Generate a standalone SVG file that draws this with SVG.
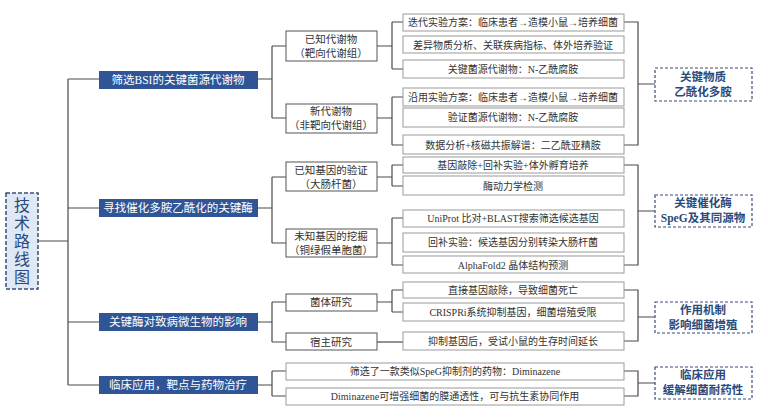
<svg xmlns="http://www.w3.org/2000/svg" width="768" height="420" viewBox="0 0 768 420">
<style>
text{font-family:"Liberation Serif","Noto Sans CJK SC",sans-serif;text-anchor:middle;dominant-baseline:central}
.l1 rect{fill:#2f5597;stroke:none}.l1 text{fill:#fff;font-size:11.5px}
.l2 rect{fill:#fff;stroke:#555;stroke-width:1}.l2 text{fill:#333;font-size:10.5px}
.l3 rect{fill:#fff;stroke:#9a9a9a;stroke-width:1}.l3 text{fill:#333;font-size:10px}
.sum rect{fill:#fff;stroke:#3a4f72;stroke-width:1.2;stroke-dasharray:3 2}.sum text{fill:#2a4a7a;font-size:11.5px;font-weight:bold}
#conn path{fill:none;stroke:#4a4a4a;stroke-width:1.2}
</style>
<g id="conn">
<path d="M38 241H68M68 79V385M68 79H99M68 208H99M68 322H99M68 385H99"/>
<path d="M258 79H272M272 46V118M272 46H286M272 118H286"/>
<path d="M258 208H272M272 177V243M272 177H286M272 243H286"/>
<path d="M258 322H272M272 302V342M272 302H286M272 342H286"/>
<path d="M258 385H272M272 371V396M272 371H286M272 396H286"/>
<path d="M377 46H392M392 22V69M392 22H403M392 69H403"/>
<path d="M377 118H392M392 97V145M392 97H403M392 145H403"/>
<path d="M377 177H392M392 165V186M392 165H403M392 186H403"/>
<path d="M377 243H392M392 218V265M392 218H403M392 265H403"/>
<path d="M377 302H392M392 290V312M392 290H403M392 312H403"/>
<path d="M377 342H403"/>
<path d="M624 22H638V145H624M638 84H655"/>
<path d="M624 165H638V265H624M638 211H655"/>
<path d="M624 290H638V341H624M638 317H655"/>
<path d="M624 371H638V396H624M638 383H655"/>
</g>
<g id="root"><rect x="6" y="193" width="32" height="96" fill="#dfe8f4" stroke="#3a4f72" stroke-width="1.5" stroke-dasharray="4 2"/>
<text font-size="16" fill="#2a4a7a"><tspan x="22" y="205">技</tspan><tspan x="22" y="223">术</tspan><tspan x="22" y="241">路</tspan><tspan x="22" y="259">线</tspan><tspan x="22" y="277">图</tspan></text></g>
<g id="a1" class="l1"><rect x="99" y="71" width="159" height="18"/><text x="178" y="80">筛选BSI的关键菌源代谢物</text></g>
<g id="a2" class="l1"><rect x="99" y="199" width="159" height="18"/><text x="178" y="208">寻找催化多胺乙酰化的关键酶</text></g>
<g id="a3" class="l1"><rect x="99" y="313" width="159" height="18"/><text x="178" y="322">关键酶对致病微生物的影响</text></g>
<g id="a4" class="l1"><rect x="99" y="376" width="159" height="18"/><text x="178" y="385">临床应用，靶点与药物治疗</text></g>
<g id="b1" class="l2"><rect x="286" y="31" width="91" height="30"/><text x="331" y="39">已知代谢物</text><text x="331" y="53">（靶向代谢组）</text></g>
<g id="b2" class="l2"><rect x="286" y="104" width="91" height="29"/><text x="331" y="111">新代谢物</text><text x="331" y="125">（非靶向代谢组）</text></g>
<g id="b3" class="l2"><rect x="286" y="162" width="91" height="29"/><text x="331" y="170">已知基因的验证</text><text x="331" y="184">（大肠杆菌）</text></g>
<g id="b4" class="l2"><rect x="286" y="229" width="91" height="28"/><text x="331" y="236">未知基因的挖掘</text><text x="331" y="250">（铜绿假单胞菌）</text></g>
<g id="b5" class="l2"><rect x="286" y="294" width="91" height="17"/><text x="331" y="302">菌体研究</text></g>
<g id="b6" class="l2"><rect x="286" y="333" width="91" height="17"/><text x="331" y="342">宿主研究</text></g>
<g id="c1" class="l3"><rect x="403" y="14" width="221" height="17"/><text x="513" y="22">迭代实验方案：临床患者→造模小鼠→培养细菌</text></g>
<g id="c2" class="l3"><rect x="403" y="36" width="221" height="17"/><text x="513" y="45">差异物质分析、关联疾病指标、体外培养验证</text></g>
<g id="c3" class="l3"><rect x="403" y="60" width="221" height="18"/><text x="513" y="69">关键菌源代谢物：N-乙酰腐胺</text></g>
<g id="c4" class="l3"><rect x="403" y="88" width="221" height="18"/><text x="513" y="97">沿用实验方案：临床患者→造模小鼠→培养细菌</text></g>
<g id="c5" class="l3"><rect x="403" y="108" width="221" height="19"/><text x="513" y="117">验证菌源代谢物：N-乙酰腐胺</text></g>
<g id="c6" class="l3"><rect x="403" y="135" width="221" height="19"/><text x="513" y="145">数据分析+核磁共振解谱：二乙酰亚精胺</text></g>
<g id="c7" class="l3"><rect x="403" y="157" width="221" height="16"/><text x="513" y="165">基因敲除+回补实验+体外孵育培养</text></g>
<g id="c8" class="l3"><rect x="403" y="176" width="221" height="19"/><text x="513" y="186">酶动力学检测</text></g>
<g id="c9" class="l3"><rect x="403" y="210" width="221" height="17"/><text x="513" y="218">UniProt 比对+BLAST搜索筛选候选基因</text></g>
<g id="c10" class="l3"><rect x="403" y="233" width="221" height="19"/><text x="513" y="242">回补实验：候选基因分别转染大肠杆菌</text></g>
<g id="c11" class="l3"><rect x="403" y="256" width="221" height="17"/><text x="513" y="265">AlphaFold2 晶体结构预测</text></g>
<g id="c12" class="l3"><rect x="403" y="282" width="221" height="16"/><text x="513" y="290">直接基因敲除，导致细菌死亡</text></g>
<g id="c13" class="l3"><rect x="403" y="303" width="221" height="18"/><text x="513" y="312">CRISPRi系统抑制基因，细菌增殖受限</text></g>
<g id="c14" class="l3"><rect x="403" y="332" width="221" height="18"/><text x="513" y="341">抑制基因后，受试小鼠的生存时间延长</text></g>
<g id="c15" class="l3"><rect x="286" y="363" width="338" height="17"/><text x="455" y="371">筛选了一款类似SpeG抑制剂的药物：Diminazene</text></g>
<g id="c16" class="l3"><rect x="286" y="388" width="338" height="17"/><text x="455" y="396">Diminazene可增强细菌的膜通透性，可与抗生素协同作用</text></g>
<g id="s1" class="sum"><rect x="655" y="68" width="97" height="33"/><text x="703" y="77">关键物质</text><text x="703" y="92">乙酰化多胺</text></g>
<g id="s2" class="sum"><rect x="655" y="195" width="97" height="32"/><text x="703" y="203">关键催化酶</text><text x="703" y="218">SpeG及其同源物</text></g>
<g id="s3" class="sum"><rect x="655" y="302" width="97" height="31"/><text x="703" y="310">作用机制</text><text x="703" y="325">影响细菌增殖</text></g>
<g id="s4" class="sum"><rect x="655" y="367" width="97" height="32"/><text x="703" y="375">临床应用</text><text x="703" y="390">缓解细菌耐药性</text></g>
</svg>
